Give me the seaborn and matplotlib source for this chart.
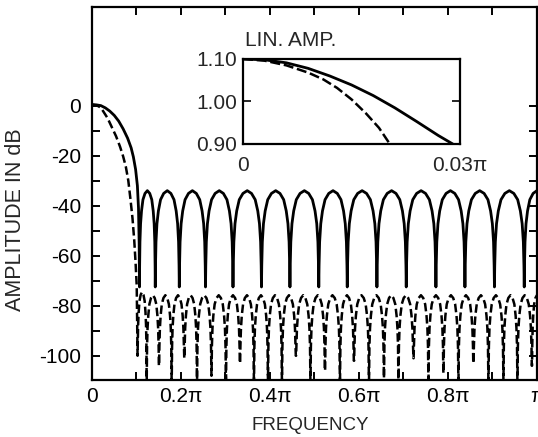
import matplotlib
matplotlib.use("Agg")
import matplotlib.pyplot as plt
import seaborn as sns
import numpy as np

sns.set_style("ticks")
plt.rcParams['font.family'] = ['Liberation Sans', 'DejaVu Sans']

# ---- data (frequency in units of pi, level in dB) ----
# passband / transition part of both responses
solid_pass_f = [0, 0.01, 0.02, 0.03, 0.04, 0.05, 0.06, 0.07, 0.08, 0.088, 0.093, 0.098, 0.102, 0.1045, 0.106]
solid_pass_db = [0.4, 0.3, 0.0, -0.9, -2.2, -3.9, -6.2, -9.3, -13.0, -16.9, -20.5, -25.5, -32.0, -41.0, -55.0]
dash_pass_f = [0, 0.01, 0.015, 0.02, 0.025, 0.035, 0.044, 0.054, 0.063, 0.07, 0.076, 0.0816, 0.0865, 0.091, 0.095, 0.098, 0.1005]
dash_pass_db = [0.4, 0.1, -0.3, -0.9, -2.2, -5.0, -8.4, -12.2, -16.4, -20.3, -24.4, -30.0, -37.5, -45.0, -54.0, -63.0, -72.0]

# stopband: null positions, depth reached at each null, level of each lobe
solid_nulls = [0.1067, 0.1422, 0.1962, 0.2551, 0.3169, 0.3809, 0.4449, 0.5097,
               0.5737, 0.6404, 0.7063, 0.7730, 0.8382, 0.9045, 0.9715]
solid_floor = [-72.5] * 15
solid_peaks = [-34.0] * 15

dash_nulls = [0.1022, 0.1229, 0.1506, 0.1791, 0.2074, 0.2360, 0.2685, 0.3011, 0.3326, 0.3640,
              0.3955, 0.4270, 0.4584, 0.4910, 0.5236, 0.5573, 0.5888, 0.6225, 0.6562, 0.6888,
              0.7225, 0.7562, 0.7899, 0.8236, 0.8573, 0.8910, 0.9247, 0.9562, 0.9888]
dash_floor = [-100, -112, -104, -112, -101, -112, -108, -112, -103, -112,
              -110, -112, -100, -112, -106, -112, -102, -112, -109, -112,
              -101, -112, -107, -112, -103, -112, -110, -112, -104]
dash_peaks = [-74.5] + [-75.8] * 28

# shape of one lobe as seen in the plot (fraction of lobe width, dB below lobe top)
lobe_pos = [0.0, 0.01, 0.03, 0.07, 0.13, 0.22, 0.35, 0.5, 0.65, 0.78, 0.87, 0.93, 0.97, 0.99]
lobe_drop = [0.0, -30.0, -20.5, -13.2, -8.1, -3.6, -1.1, 0.0, -1.1, -3.6, -8.1, -13.2, -20.5, -30.0]

# inset: linear amplitude near DC
inset_solid_f = [0, 0.003, 0.006, 0.009, 0.012, 0.015, 0.018, 0.021, 0.024, 0.027, 0.029]
inset_solid_a = [1.10, 1.098, 1.091, 1.078, 1.060, 1.039, 1.014, 0.985, 0.953, 0.920, 0.900]
inset_dash_f = [0, 0.003, 0.006, 0.009, 0.0111, 0.013, 0.015, 0.017, 0.0188, 0.0203]
inset_dash_a = [1.10, 1.096, 1.085, 1.068, 1.052, 1.032, 1.005, 0.972, 0.938, 0.900]

x_tick_vals = [0, 0.2, 0.4, 0.6, 0.8, 1.0]
x_tick_text = ["0", "0.2π", "0.4π", "0.6π", "0.8π", "π"]
y_tick_vals = [-100, -80, -60, -40, -20, 0]


def response(pass_f, pass_db, nulls, floors, peaks):
    f = list(pass_f)
    db = list(pass_db)
    for i, a in enumerate(nulls):
        if i + 1 < len(nulls):
            w = nulls[i + 1] - a
            n = len(lobe_pos)
        else:
            w = 2 * (1.0 - a)   # last half lobe ends on its top at pi
            n = 8
        for p, d in zip(lobe_pos[:n], lobe_drop[:n]):
            fl = floors[i] if p < 0.5 else floors[min(i + 1, len(floors) - 1)]
            f.append(a + p * w)
            db.append(floors[i] if p == 0 else max(peaks[i] + d, fl))
    return np.array(f), np.array(db)


sf, sdb = response(solid_pass_f, solid_pass_db, solid_nulls, solid_floor, solid_peaks)
df, ddb = response(dash_pass_f, dash_pass_db, dash_nulls, dash_floor, dash_peaks)

fig = plt.figure(figsize=(5.38, 4.37), dpi=100)
ax = fig.add_axes([0.171, 0.1304, 0.827, 0.854])

sns.lineplot(x=df, y=ddb, ax=ax, color="black", lw=1.8, sort=False, estimator=None)
ax.lines[-1].set_dashes((3.4, 1.5))
sns.lineplot(x=sf, y=sdb, ax=ax, color="black", lw=2.0, sort=False, estimator=None)

ax.set_xlim(0, 1)
ax.set_ylim(-109.7, 39.5)
ax.set_xticks(x_tick_vals)
ax.set_xticklabels(x_tick_text)
ax.set_xticks([0.1, 0.3, 0.5, 0.7, 0.9], minor=True)
ax.set_yticks(y_tick_vals)
ax.set_yticklabels([str(v) for v in y_tick_vals])
ax.set_yticks([-90, -70, -50, -30, -10], minor=True)
ax.tick_params(which="both", direction="in", length=6, width=1.4, top=True, right=True,
               labelsize=15, colors="black")
ax.tick_params(axis="y", which="both", pad=8)
ax.tick_params(axis="x", which="both", pad=5)
for s in ax.spines.values():
    s.set_linewidth(1.6)
    s.set_color("black")

ax.set_xlabel("FREQUENCY", fontsize=13.5)
ax.set_ylabel("AMPLITUDE IN dB", fontsize=15.5)
ax.xaxis.set_label_coords(0.49, -0.098)
ax.yaxis.set_label_coords(-0.148, 0.43)

# inset
axi = fig.add_axes([0.4517, 0.6705, 0.4033, 0.1945])
axi.set_facecolor("white")
sns.lineplot(x=inset_dash_f, y=inset_dash_a, ax=axi, color="black", lw=1.8, sort=False, estimator=None)
axi.lines[-1].set_dashes((4.0, 1.5))
sns.lineplot(x=inset_solid_f, y=inset_solid_a, ax=axi, color="black", lw=2.0, sort=False, estimator=None)
axi.set_xlim(0, 0.03)
axi.set_ylim(0.90, 1.10)
axi.set_xticks([0, 0.03])
axi.set_xticklabels(["0", "0.03π"])
axi.set_yticks([0.90, 1.00, 1.10])
axi.set_yticklabels(["0.90", "1.00", "1.10"])
axi.tick_params(axis="y", direction="in", length=6, width=1.4, right=True, labelsize=15, pad=4)
axi.tick_params(axis="x", length=0, labelsize=15, pad=9)
for s in axi.spines.values():
    s.set_linewidth(1.6)
    s.set_color("black")
fig.text(245 / 538, 1 - 40 / 437, "LIN. AMP.", fontsize=15, ha="left", va="center")

fig.savefig("out.png", dpi=100, facecolor="white")
